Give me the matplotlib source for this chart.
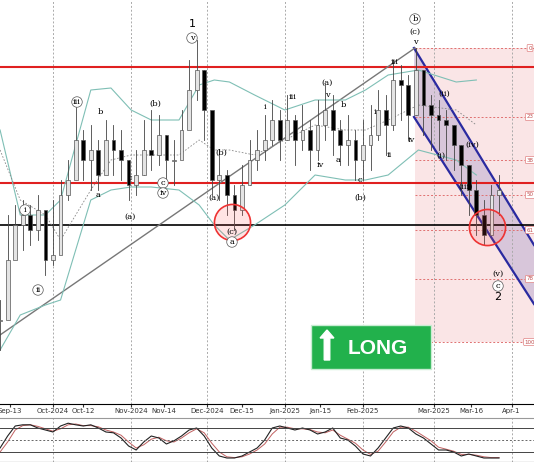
import matplotlib
matplotlib.use("Agg")
import matplotlib.pyplot as plt
from matplotlib.patches import Rectangle, Polygon, FancyArrow
import numpy as np
import pandas as pd

# candle days (days since 2024-09-01), closes / highs / lows (chart level, top = 0)
days = list(range(9, 208, 3))
close = [320, 260, 225, 215, 230, 210, 260, 255, 195, 180, 140, 160, 150, 175, 140, 150,
         160, 185, 175, 150, 155, 135, 160, 160, 130, 90, 70, 110, 180, 175, 195, 210,
         185, 160, 150, 140, 120, 140, 120, 140, 130, 150, 125, 110, 130, 145, 140, 160,
         145, 135, 110, 125, 80, 85, 115, 70, 105, 115, 120, 125, 145, 165, 190, 215,
         235, 195, 190]
high = [300, 215, 205, 200, 205, 195, 215, 200, 180, 160, 105, 130, 125, 140, 120, 125,
        130, 160, 150, 120, 110, 115, 135, 140, 110, 60, 40, 70, 120, 150, 170, 185,
        165, 140, 130, 115, 100, 110, 95, 115, 105, 120, 100, 85, 95, 120, 115, 130,
        120, 105, 90, 95, 60, 65, 75, 48, 70, 95, 100, 110, 125, 145, 165, 180,
        200, 185, 175]
low = [350, 270, 240, 250, 245, 240, 275, 265, 225, 200, 170, 180, 190, 190, 170, 175,
       180, 200, 195, 175, 170, 165, 180, 185, 150, 120, 100, 140, 195, 200, 215, 230,
       215, 185, 170, 160, 145, 160, 140, 165, 150, 170, 160, 140, 155, 165, 165, 180,
       180, 170, 140, 155, 130, 120, 140, 115, 135, 150, 150, 160, 170, 195, 215, 235,
       245, 230, 215]

band_days = [9, 17, 27, 33, 45, 53, 61, 69, 80, 88, 94, 100, 110, 122, 134, 146, 154, 163, 175, 190, 198]
band_up = [130, 215, 215, 200, 90, 88, 110, 120, 120, 85, 80, 82, 95, 110, 100, 100, 90, 75, 70, 82, 80]
band_mid = [150, 200, 215, 240, 190, 160, 155, 155, 155, 140, 150, 150, 155, 140, 125, 130, 130, 120, 105, 110, 125]
band_lo = [350, 315, 305, 300, 200, 190, 187, 187, 190, 205, 225, 240, 225, 205, 175, 180, 180, 175, 150, 160, 175]

osc_k = [30, 60, 85, 88, 88, 80, 75, 70, 85, 92, 88, 85, 88, 80, 70, 68, 55, 35, 25, 45, 60, 55,
         40, 48, 60, 75, 80, 60, 30, 10, 5, 5, 10, 20, 30, 50, 80, 85, 80, 75, 80, 75, 65, 70,
         80, 55, 50, 35, 15, 10, 30, 55, 80, 85, 80, 65, 55, 40, 25, 25, 20, 10, 15, 10, 5, 5, 5]
osc_d = [20, 45, 75, 86, 88, 84, 78, 72, 78, 88, 90, 86, 86, 83, 75, 70, 62, 45, 30, 38, 52, 57,
         48, 45, 55, 68, 78, 68, 42, 20, 8, 6, 8, 15, 25, 40, 65, 82, 82, 78, 78, 76, 70, 68,
         75, 62, 52, 42, 25, 14, 22, 45, 70, 82, 82, 72, 60, 48, 32, 27, 22, 14, 14, 12, 8, 6, 6]

fib_levels = ["0", "23", "38", "50", "61", "78", "100"]
fib_y = [48, 117, 160, 195, 230, 279, 342]

tick_labels = ["Sep-13", "Oct-2024", "Oct-12", "Nov-2024", "Nov-14", "Dec-2024", "Dec-15",
               "Jan-2025", "Jan-15", "Feb-2025", "Mar-2025", "Mar-16", "Apr-1"]
tick_days = [13, 30, 42, 61, 74, 91, 105, 122, 136, 153, 181, 196, 212]
month_days = [30, 61, 91, 122, 153, 181, 212]


def X(px):
    # figure pixel -> day coordinate (annotations only)
    return 30 + (px - 53) / 2.52


fig = plt.figure(figsize=(5.34, 4.62), dpi=100)
ax = fig.add_axes([0, 58 / 462, 1, 404 / 462])
ox = fig.add_axes([0, 0, 1, 44 / 462])
xl = (X(0), X(534))
ax.set_xlim(*xl)
ax.set_ylim(404, 0)
ox.set_xlim(*xl)
ox.set_ylim(-5, 105)

for d in month_days:
    ax.axvline(d, color="#aaaaaa", ls=(0, (2, 2)), lw=0.7)
    ox.axvline(d, color="#aaaaaa", ls=(0, (2, 2)), lw=0.7)

# fib box and channel
ax.add_patch(Rectangle((X(415), 48), X(534) - X(415), 294, color="#f4c6c8", alpha=0.45, lw=0))
for lab, y in zip(fib_levels, fib_y):
    ax.plot([X(415), X(534)], [y, y], color="#e07070", ls=(0, (2, 2)), lw=0.7)
    ax.text(X(530), y, lab, fontsize=4, ha="center", va="center", color="#c05050",
            bbox=dict(boxstyle="round,pad=0.2", fc="white", ec="#e08080", lw=0.5))
up = [(X(414), 48), (X(534), 245)]
dn = [(X(414), 117), (X(534), 304)]
ax.add_patch(Polygon(up + dn[::-1], color="#b8a8d0", alpha=0.5, lw=0))
ax.plot(*zip(*up), color="#2a2aa0", lw=1.6)
ax.plot(*zip(*dn), color="#2a2aa0", lw=1.6)

ax.axhline(67, color="#e02020", lw=1.5)
ax.axhline(183, color="#e02020", lw=1.5)
ax.axhline(225, color="black", lw=1.2)
ax.plot([X(0), X(415)], [335, 48], color="#777777", lw=1)

ax.plot(band_days, band_up, color="#7fbfb5", lw=0.8)
ax.plot(band_days, band_lo, color="#7fbfb5", lw=0.8)
ax.plot(band_days, band_mid, color="#888888", lw=0.6, ls=(0, (2, 2)))

prev = close[0]
for d, c, h, l in zip(days, close, high, low):
    o = prev
    ax.plot([d, d], [h, l], color="#444444", lw=0.6, zorder=3)
    bull = c <= o
    ax.add_patch(Rectangle((d - 0.75, min(o, c)), 1.5, max(abs(o - c), 1),
                           fc="#e4e4e4" if bull else "black", ec="#555555", lw=0.5, zorder=4))
    prev = c

for cx, cy in [(232, 222), (487, 227)]:
    ax.plot(X(cx), cy, "o", ms=26, mfc=(1, 0.3, 0.3, 0.15), mec="#ee3333", mew=1.2, zorder=5)

waves = [(77, 102, "iii", True), (25, 210, "i", True), (38, 290, "ii", True), (100, 112, "b", False),
         (98, 195, "a", False), (130, 178, "c", False), (130, 217, "(a)", False),
         (155, 104, "(b)", False), (163, 183, "c", True), (163, 193, "iv", True),
         (192, 24, "1", False), (192, 38, "v", True), (221, 153, "(b)", False),
         (214, 198, "(a)", False), (232, 232, "(c)", False), (232, 242, "a", True),
         (265, 107, "i", False), (293, 97, "iii", False), (320, 165, "iv", False),
         (327, 83, "(a)", False), (327, 95, "v", False), (343, 105, "b", False),
         (338, 160, "a", False), (360, 180, "c", False), (360, 198, "(b)", False),
         (375, 112, "i", False), (389, 155, "ii", False), (395, 62, "iii", False),
         (411, 140, "iv", False), (415, 19, "b", True), (415, 32, "(c)", False),
         (415, 42, "v", False), (444, 94, "(ii)", False), (441, 156, "(i)", False),
         (472, 145, "(iv)", False), (466, 187, "(iii)", False), (498, 274, "(v)", False),
         (498, 286, "c", True)]
for px, py, t, circ in waves:
    kw = dict(fontsize=6, ha="center", va="center", family="DejaVu Serif", zorder=6)
    if circ:
        kw["bbox"] = dict(boxstyle="circle,pad=0.15", fc="white", ec="#555555", lw=0.5)
    if t == "1":
        kw["fontsize"] = 8
        kw["family"] = "DejaVu Sans"
    ax.text(X(px), py, t, **kw)
ax.text(X(498), 297, "2", fontsize=8, ha="center", va="center")

# LONG box
bx0, bx1 = X(311), X(431)
ax.add_patch(Rectangle((bx0, 325), bx1 - bx0, 44, fc="#22b14c", ec="#c8ecd2", lw=1, zorder=6))
ax.add_patch(FancyArrow(X(327), 360, 0, -22, width=2.2, head_width=5.5, head_length=8,
                        fc="white", ec="white", zorder=7))
ax.text(X(348), 348, "LONG", color="white", fontsize=15, fontweight="bold",
        va="center", ha="left", zorder=7, family="Liberation Sans")

ax.set_xticks(tick_days)
ax.set_xticklabels(tick_labels, fontsize=5)
ax.tick_params(axis="x", length=2, pad=1, colors="#333333")
ax.set_yticks([])
for s in ["top", "left", "right"]:
    ax.spines[s].set_visible(False)

ox.plot(days, osc_d, color="#c06060", lw=0.7)
ox.plot(days, osc_k, color="#222222", lw=0.8)
ox.axhline(80, color="#444444", lw=0.7)
ox.axhline(20, color="#444444", lw=0.7)
ox.axhline(50, color="#666666", lw=0.7, ls=(0, (2, 2)))
ox.set_xticks([])
ox.set_yticks([])
for s in ["left", "right"]:
    ox.spines[s].set_visible(False)
ox.spines["top"].set_color("#999999")

fig.savefig("out.png", dpi=100)
